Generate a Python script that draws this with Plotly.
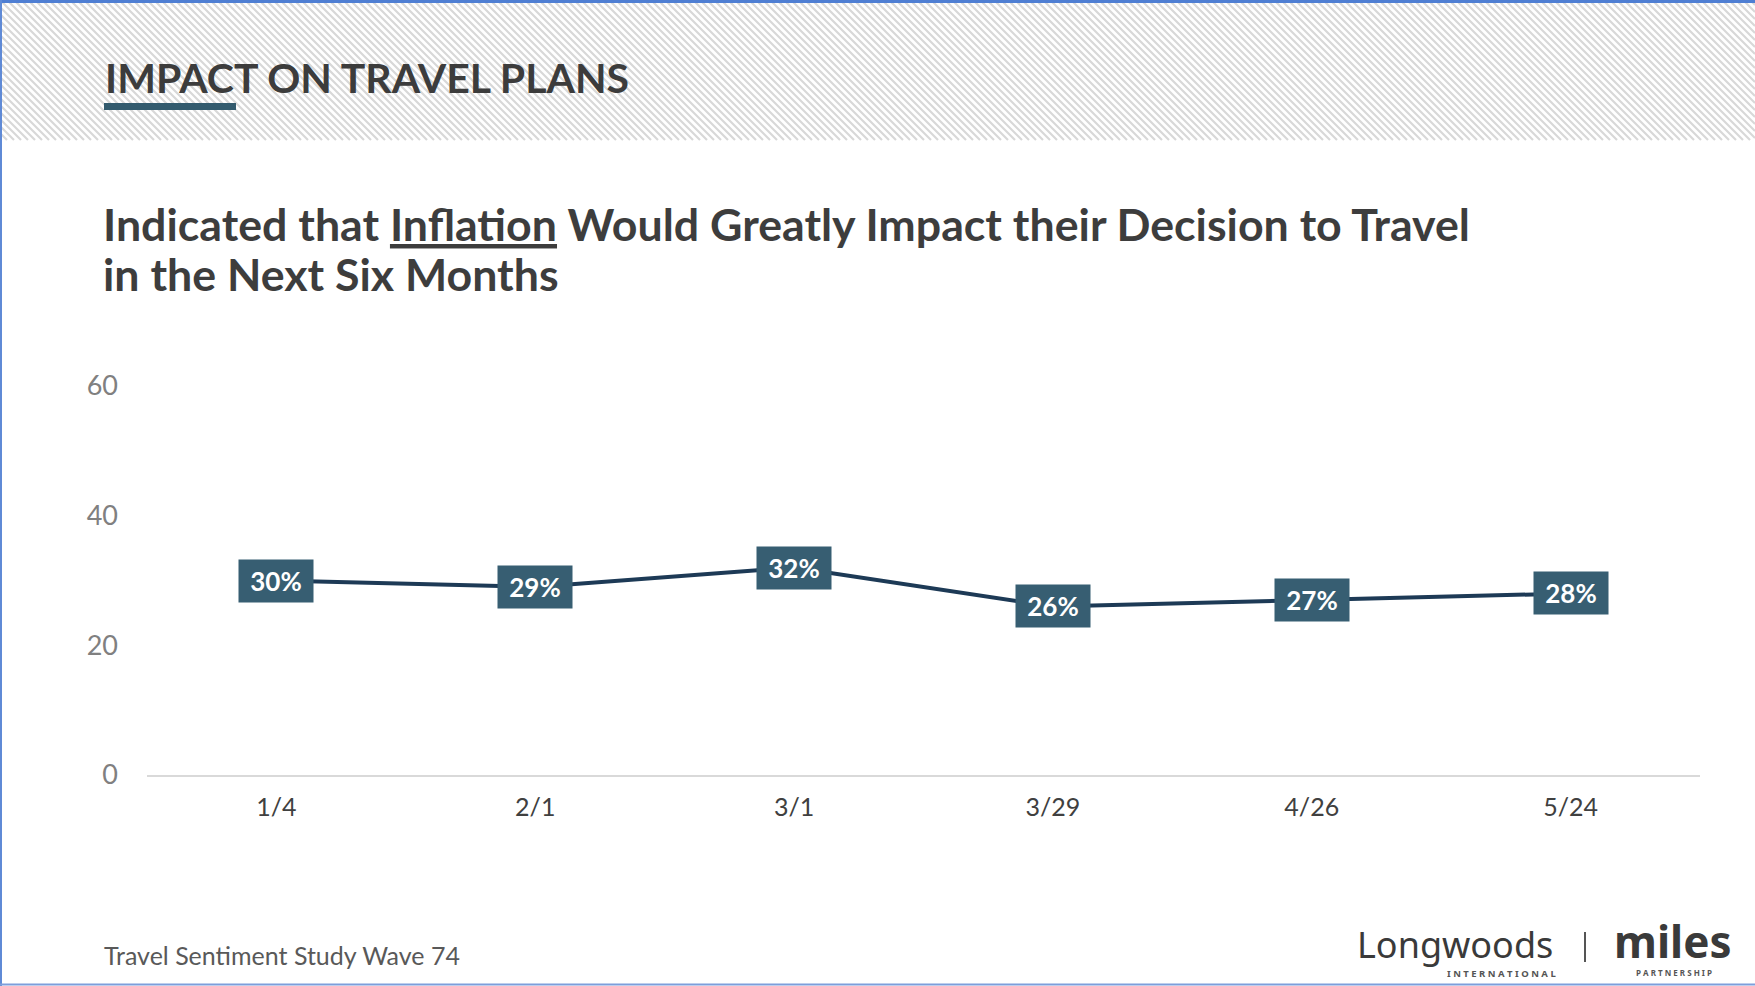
import plotly.graph_objects as go

# ---------------- data ----------------
categories = ["1/4", "2/1", "3/1", "3/29", "4/26", "5/24"]
values = [30, 29, 32, 26, 27, 28]
value_labels = [f"{v}%" for v in values]
y_ticks = [0, 20, 40, 60]

header_title = "IMPACT ON TRAVEL PLANS"
subtitle_line1 = "Indicated that <u>Inflation</u> Would Greatly Impact their Decision to Travel"
subtitle_line2 = "in the Next Six Months"
footer_text = "Travel Sentiment Study Wave 74"

# ---------------- layout geometry ----------------
W, H = 1755, 986
ML, MR, MT, MB = 147, 55, 386, 211
PW = W - ML - MR
PH = H - MT - MB


def px(x):
    return (x - ML) / PW


def py(y):
    return (H - MB - y) / PH


NAVY = "#1d3a56"
TEAL = "#375e72"
FONT = "Lato"

fig = go.Figure()
fig.add_trace(go.Scatter(
    x=list(range(len(categories))), y=values, mode="lines",
    line=dict(color=NAVY, width=4), hoverinfo="skip", showlegend=False,
))

annotations = []
for i, (v, lab) in enumerate(zip(values, value_labels)):
    annotations.append(dict(
        x=i, y=v, xref="x", yref="y", text=lab, showarrow=False,
        bgcolor=TEAL, width=74, height=42, borderpad=0, align="center",
        font=dict(family=FONT, size=26, color="white", weight="bold"),
    ))

# header title
annotations.append(dict(
    x=px(103), y=py(77), xref="paper", yref="paper", text=header_title,
    showarrow=False, xanchor="left", yanchor="middle",
    font=dict(family=FONT, size=41, color="#3c3c3c", weight="bold"),
))
# subtitle
annotations.append(dict(
    x=px(101), y=py(224), xref="paper", yref="paper", text=subtitle_line1,
    showarrow=False, xanchor="left", yanchor="middle",
    font=dict(family=FONT, size=44.7, color="#3d3d3d", weight="bold"),
))
annotations.append(dict(
    x=px(101), y=py(274), xref="paper", yref="paper", text=subtitle_line2,
    showarrow=False, xanchor="left", yanchor="middle",
    font=dict(family=FONT, size=44.7, color="#3d3d3d", weight="bold"),
))
# footer
annotations.append(dict(
    x=px(102), y=py(955), xref="paper", yref="paper", text=footer_text,
    showarrow=False, xanchor="left", yanchor="middle",
    font=dict(family=FONT, size=25, color="#595959"),
))
# logos as text
annotations.append(dict(
    x=px(1355), y=py(944), xref="paper", yref="paper", text="Longwoods",
    showarrow=False, xanchor="left", yanchor="middle",
    font=dict(family="Noto Sans", size=36, color="#3a3a3a"),
))
annotations.append(dict(
    x=px(1558), y=py(973), xref="paper", yref="paper", text="I N T E R N A T I O N A L",
    showarrow=False, xanchor="right", yanchor="middle",
    font=dict(family="Noto Sans", size=9.5, color="#555555", weight="bold"),
))
annotations.append(dict(
    x=px(1612), y=py(941), xref="paper", yref="paper", text="miles",
    showarrow=False, xanchor="left", yanchor="middle",
    font=dict(family="Noto Sans", size=44, color="#3a3a3a", weight="bold"),
))
annotations.append(dict(
    x=px(1674), y=py(972), xref="paper", yref="paper", text="P A R T N E R S H I P",
    showarrow=False, xanchor="center", yanchor="middle",
    font=dict(family="Noto Sans", size=8, color="#555555", weight="bold"),
))

# ---------------- shapes ----------------
shapes = []
# hatched header band
HB = 140
step = 7
segs = []
c = -HB
while c < W:
    x0 = max(0, c)
    x1 = min(W, c + HB)
    y0 = x0 - c
    y1 = x1 - c
    segs.append(f"M{px(x0):.5f},{py(y0):.5f} L{px(x1):.5f},{py(y1):.5f}")
    c += step
shapes.append(dict(type="path", xref="paper", yref="paper", path=" ".join(segs),
                   line=dict(color="#d8d8d8", width=2.2), layer="below"))
# underline bar under header title
shapes.append(dict(type="rect", xref="paper", yref="paper",
                   x0=px(104), x1=px(236), y0=py(103), y1=py(110),
                   fillcolor="#335b6e", line=dict(width=0)))
# logo separator
shapes.append(dict(type="line", xref="paper", yref="paper",
                   x0=px(1585), x1=px(1585), y0=py(932), y1=py(962),
                   line=dict(color="#555555", width=2)))
# outer blue frame
shapes.append(dict(type="line", xref="paper", yref="paper",
                   x0=px(0), x1=px(W), y0=py(1.5), y1=py(1.5),
                   line=dict(color="#4f7fd3", width=3)))
shapes.append(dict(type="line", xref="paper", yref="paper",
                   x0=px(1), x1=px(1), y0=py(0), y1=py(H),
                   line=dict(color="#5f8ad6", width=2)))
shapes.append(dict(type="line", xref="paper", yref="paper",
                   x0=px(0), x1=px(W), y0=py(984.5), y1=py(984.5),
                   line=dict(color="#7d9edb", width=2)))

fig.update_layout(
    width=W, height=H,
    margin=dict(l=ML, r=MR, t=MT, b=MB, autoexpand=False),
    paper_bgcolor="white", plot_bgcolor="white",
    showlegend=False,
    annotations=annotations,
    shapes=shapes,
    xaxis=dict(
        range=[-0.5, len(categories) - 0.5],
        tickmode="array", tickvals=list(range(len(categories))), ticktext=categories,
        showgrid=False, zeroline=False,
        showline=True, linecolor="#d9d9d9", linewidth=2,
        ticks="", ticklabelstandoff=9,
        tickfont=dict(family=FONT, size=25, color="#404040"),
    ),
    yaxis=dict(
        range=[0, 60], tickmode="array", tickvals=y_ticks,
        showgrid=False, zeroline=False, showline=False,
        ticks="", ticklabelstandoff=28,
        tickfont=dict(family=FONT, size=27, color="#808080"),
    ),
)

fig.write_html("out.html")
